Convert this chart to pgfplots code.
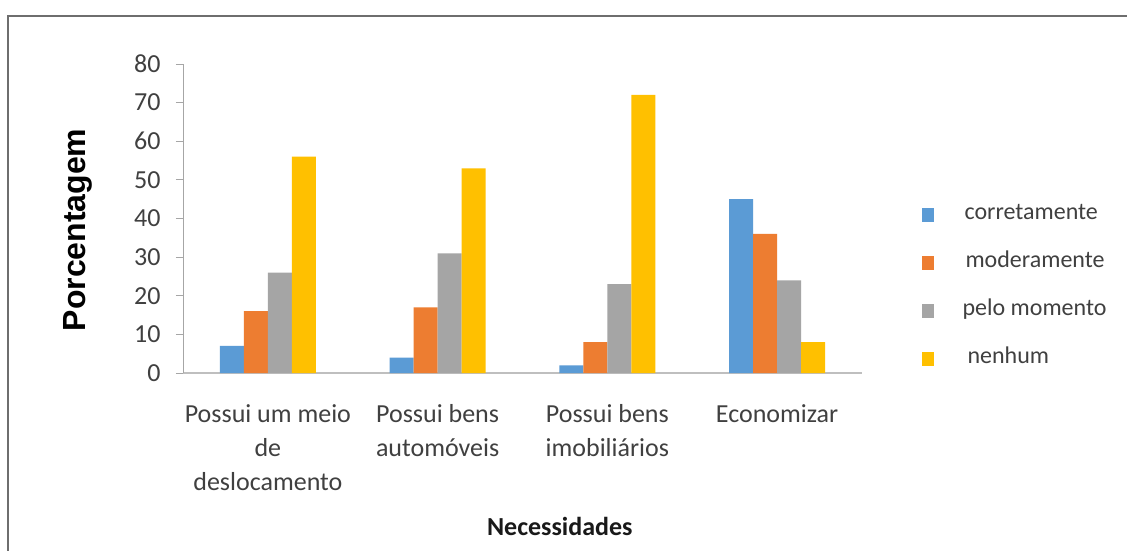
\documentclass[border=0pt]{standalone}
\usepackage{pgfplots}
\pgfplotsset{compat=1.18}
\usepackage{fontspec}
\setmainfont{Carlito}
\newfontfamily\arialf{Liberation Sans}
\definecolor{cblue}{HTML}{5B9BD5}
\definecolor{corange}{HTML}{ED7D31}
\definecolor{cgray}{HTML}{A5A5A5}
\definecolor{cyellow}{HTML}{FFC000}
\definecolor{txt}{HTML}{404040}
\definecolor{axg}{HTML}{A6A6A6}
\definecolor{frame}{HTML}{6E6E6E}
\begin{document}
\begin{tikzpicture}[x=1pt,y=1pt]
\useasboundingbox (0,0) rectangle (1127,550);
\fill[white] (0,0) rectangle (1127,550);
% frame
\draw[frame, line width=2.5pt] (8,-5) -- (8,534) -- (1135,534);
\begin{axis}[
  at={(183pt,177pt)}, anchor=south west,
  scale only axis, width=679pt, height=309pt,
  ybar=0pt, bar width=24pt,
  xmin=-0.5, xmax=3.5, ymin=0, ymax=80,
  axis x line=bottom, axis y line=left,
  axis line style={-, axg, line width=1pt},
  x axis line style={line width=1.5pt, draw=black!25},
  xtick=data, xtick style={draw=none},
  xticklabels={{Possui um meio\\de\\deslocamento},{Possui bens\\autom\'oveis},{Possui bens\\imobili\'arios},{Economizar}},
  xticklabel style={align=center, anchor=north, font=\fontsize{26}{34}\selectfont, text=txt, yshift=-21pt},
  ytick={0,10,...,80},
  tick align=outside,
  ytick style={axg, line width=1pt},
  major tick length=7pt,
  yticklabel style={font=\fontsize{26}{26}\selectfont, text=txt, xshift=-12pt, /pgf/number format/assume math mode=true},
  ylabel={Porcentagem},
  ylabel style={at={(axis description cs:-0.155,0.463)}, anchor=center, rotate=0, font=\arialf\bfseries\fontsize{32}{32}\selectfont, text=black},
  xlabel={Necessidades},
  xlabel style={at={(axis description cs:0.555,-0.498)}, anchor=center, font=\bfseries\fontsize{26}{26}\selectfont, text=black!90},
  legend cell align=left,
  legend style={draw=none, fill=none, at={(1.083,0.555)}, anchor=north west,
    font=\fontsize{24}{24}\selectfont, text=txt,
    nodes={text height=14pt, text depth=4pt, inner sep=2pt},
    row sep=26pt},
  legend image code/.code={\fill[#1] (0pt,-7pt) rectangle (12pt,7pt);},
]
\addplot[fill=cblue, draw=none] coordinates {(0,7) (1,4) (2,2) (3,45)};
\addplot[fill=corange, draw=none] coordinates {(0,16) (1,17) (2,8) (3,36)};
\addplot[fill=cgray, draw=none] coordinates {(0,26) (1,31) (2,23) (3,24)};
\addplot[fill=cyellow, draw=none] coordinates {(0,56) (1,53) (2,72) (3,8)};
\legend{\hspace{29pt}corretamente,\hspace{30pt}moderamente,\hspace{27pt}pelo momento,\hspace{32pt}nenhum}
\end{axis}
\end{tikzpicture}
\end{document}
